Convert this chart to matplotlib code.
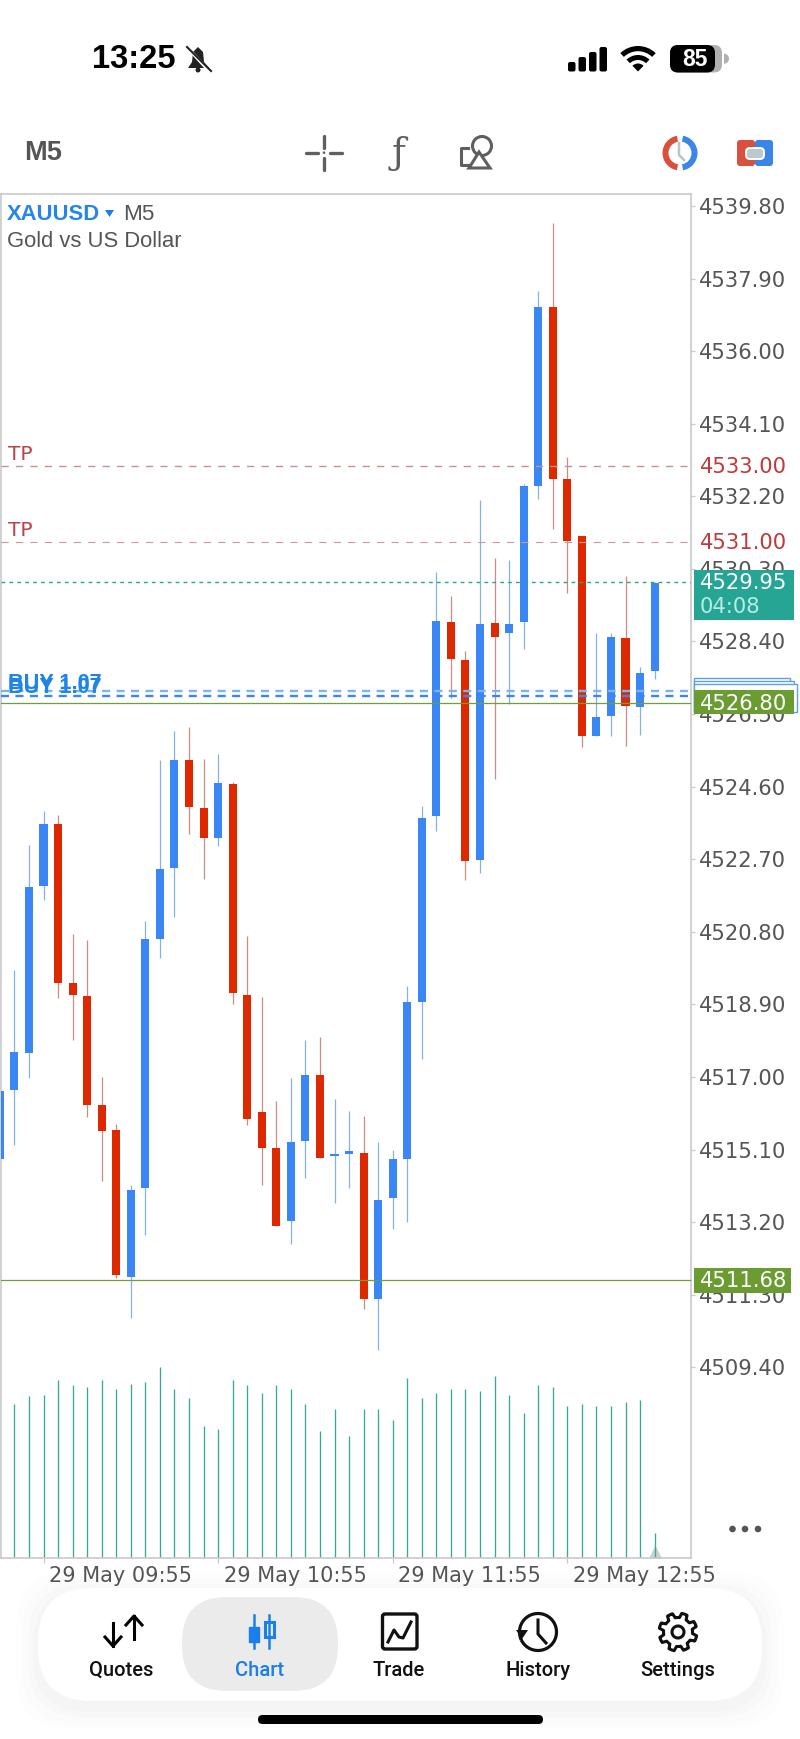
import numpy as np
import matplotlib
matplotlib.use("Agg")
import matplotlib.pyplot as plt
from matplotlib.patches import Rectangle, FancyBboxPatch, Polygon, Circle, Wedge
from matplotlib.transforms import ScaledTranslation

plt.rcParams['font.family'] = ['Liberation Sans', 'DejaVu Sans']
plt.rcParams['lines.scale_dashes'] = False

# ---------- data ----------
candle_index = list(range(-1, 45))
opens = [4514.86, 4516.66, 4517.63, 4522.00, 4523.61, 4519.47, 4519.11, 4516.27, 4515.60, 4511.77, 4514.09,
         4520.61, 4522.47, 4525.31, 4524.04, 4523.26, 4524.67, 4519.15, 4516.08, 4515.13, 4513.23, 4515.33,
         4517.05, 4514.92, 4514.98, 4515.02, 4511.20, 4513.83, 4514.84, 4518.95, 4523.83, 4528.92, 4527.91,
         4522.68, 4528.89, 4528.62, 4528.91, 4532.47, 4537.15, 4532.66, 4531.15, 4525.92, 4526.46, 4528.48,
         4526.68, 4527.64]
closes = [4516.64, 4517.66, 4521.98, 4523.61, 4519.47, 4519.14, 4516.27, 4515.59, 4511.81, 4514.05, 4520.60,
          4522.44, 4525.31, 4524.08, 4523.25, 4524.69, 4519.20, 4515.90, 4515.15, 4513.11, 4515.31, 4517.06,
          4514.87, 4514.97, 4515.02, 4511.20, 4513.79, 4514.84, 4518.95, 4523.79, 4528.93, 4527.95, 4522.65,
          4528.87, 4528.53, 4528.87, 4532.46, 4537.15, 4532.66, 4531.04, 4525.92, 4526.41, 4528.51, 4526.71,
          4527.57, 4529.94]
highs = [4516.64, 4519.80, 4523.07, 4523.96, 4523.86, 4520.73, 4520.58, 4517.01, 4515.77, 4514.16, 4521.08,
         4525.29, 4526.06, 4526.17, 4525.33, 4525.46, 4524.73, 4520.68, 4519.09, 4516.38, 4516.98, 4517.96,
         4518.04, 4516.43, 4516.11, 4515.98, 4515.31, 4515.10, 4519.39, 4524.10, 4530.23, 4529.60, 4528.14,
         4532.10, 4530.59, 4530.52, 4532.53, 4537.57, 4539.35, 4533.24, 4531.15, 4528.61, 4528.63, 4530.12,
         4527.74, 4529.95]
lows = [4514.86, 4515.22, 4516.98, 4521.63, 4519.07, 4517.98, 4515.94, 4514.28, 4511.75, 4510.68, 4512.87,
        4520.12, 4521.20, 4523.37, 4522.18, 4523.04, 4518.92, 4515.73, 4514.17, 4513.11, 4512.62, 4514.36,
        4514.87, 4513.70, 4514.09, 4510.93, 4509.85, 4513.03, 4513.21, 4517.47, 4523.43, 4526.92, 4522.15,
        4522.35, 4524.81, 4526.76, 4528.21, 4532.12, 4531.34, 4529.68, 4525.63, 4525.92, 4525.92, 4525.66,
        4525.94, 4527.41]
volumes = [154, 162, 163, 178, 173, 171, 178, 169, 174, 176, 191, 169, 160, 132, 129, 178, 173, 165, 173, 169,
           154, 127, 149, 122, 149, 149, 138, 180, 160, 165, 169, 169, 167, 182, 163, 145, 173, 171, 152, 154,
           152, 152, 156, 158, 25]
volume_index = list(range(0, 45))
price_ticks = [4539.80, 4537.90, 4536.00, 4534.10, 4532.20, 4530.30, 4528.40, 4526.50, 4524.60, 4522.70,
               4520.80, 4518.90, 4517.00, 4515.10, 4513.20, 4511.30, 4509.40]
time_ticks = [2, 14, 26, 38]
time_labels = ['29 May 09:55', '29 May 10:55', '29 May 11:55', '29 May 12:55']
tp_levels = [4533.00, 4531.00]
last_price = 4529.95
buy_levels = [4527.10, 4526.98]
green_levels = [4526.80, 4511.68]

# ---------- colours ----------
BLUE, RED = '#3a86f4', '#dd2800'
BLUE_W, RED_W = '#86b1e8', '#cc8c80'
TEAL, GREEN = '#26a595', '#6a9c32'
GREY, SPINE = '#555555', '#c9c9c9'
ACC = '#1a7fe8'
SIZE = 15.2

# ---------- layout ----------
W, H = 800, 1739
L_PX, R_PX, T_PX, B_PX = 0.8, 690.7, 194.3, 1558.0
PX_PER_UNIT = 38.2
fig = plt.figure(figsize=(W / 100, H / 100), dpi=100, facecolor='white')
rect = [L_PX / W, (H - B_PX) / H, (R_PX - L_PX) / W, (B_PX - T_PX) / H]
vol = fig.add_axes(rect, zorder=1)
ax = fig.add_axes(rect, zorder=2, facecolor='none')
step = 14.55
ax.set_xlim((L_PX - 14.4) / step, (R_PX - 14.4) / step)
ax.set_ylim(4539.8 - (B_PX - 206) / PX_PER_UNIT, 4539.8 - (T_PX - 206) / PX_PER_UNIT)

# volumes
vol.set_xlim(ax.get_xlim())
vol.set_ylim(0, B_PX - T_PX)
vol.scatter([volume_index[-1]], [0], marker=[(-1, 0), (1, 0), (0, 2)], s=353, color='#cfcfcf', linewidths=0, zorder=1)
vol.vlines(volume_index, 0, volumes, color='#3aa898', lw=0.95, zorder=2)
vol.axis('off')

# candles
up = [c >= o for o, c in zip(opens, closes)]
ax.vlines(candle_index, lows, highs, colors=[BLUE_W if u else RED_W for u in up], lw=0.9, zorder=2)
ax.bar(candle_index, [max(abs(c - o), 0.07) for o, c in zip(opens, closes)],
       bottom=[min(o, c) for o, c in zip(opens, closes)], width=0.55,
       color=[BLUE if u else RED for u in up], linewidth=0, zorder=3)

# horizontal levels
ax.axhline(tp_levels[0], color='#c99090', lw=1.0, dashes=(5.2, 5.2), zorder=4)
ax.axhline(tp_levels[1], color='#cf9898', lw=0.8, dashes=(5.2, 5.2), zorder=4)
ax.axhline(last_price, color=TEAL, lw=1.0, dashes=(2.7, 3.0), zorder=4)
ax.axhline(buy_levels[0], color='#7fb2f0', lw=1.7, dashes=(5.8, 4.6), zorder=4)
ax.axhline(buy_levels[1], color='#3a86f4', lw=1.7, dashes=(5.8, 4.6), zorder=4)
for g in green_levels:
    ax.axhline(g, color='#6f9f3c', lw=0.9, zorder=5)

# axes frame and ticks
for s in ax.spines.values():
    s.set_color(SPINE)
    s.set_linewidth(1.2)
ax.yaxis.tick_right()
ax.set_yticks(price_ticks)
ax.set_yticklabels([f'{p:.2f}' for p in price_ticks], family='DejaVu Sans', fontsize=SIZE, color=GREY)
ax.tick_params(axis='y', length=3, width=0.9, color=SPINE, pad=3.2)
ax.set_xticks(time_ticks)
ax.set_xticklabels(time_labels, family='DejaVu Sans', fontsize=15, color=GREY, ha='left')
ax.tick_params(axis='x', length=3.6, width=0.9, color=SPINE, pad=2.5)
off = ScaledTranslation(4 / 72, 0, fig.dpi_scale_trans)
for lab in ax.get_xticklabels():
    lab.set_transform(lab.get_transform() + off)

ytr = ax.get_yaxis_transform()
def ax_frac(px):
    return (px - L_PX) / (R_PX - L_PX)
def box(price_center, h_up, h_dn, x0, x1, fc, ec='none', lw=0, z=10):
    ax.add_patch(Rectangle((ax_frac(x0), price_center - h_dn / PX_PER_UNIT), ax_frac(x1) - ax_frac(x0),
                           (h_up + h_dn) / PX_PER_UNIT, transform=ytr, fc=fc, ec=ec, lw=lw,
                           clip_on=False, zorder=z))
def label(px, price, s, color, size=SIZE, z=12, **kw):
    ax.text(ax_frac(px), price - 1.2 / PX_PER_UNIT, s, transform=ytr, color=color, fontsize=size, va='center',
            ha='left', clip_on=False, zorder=z, **kw)

# red TP labels on the axis
for tp in tp_levels:
    label(699.5, tp, f'{tp:.2f}', '#c0393b', family='DejaVu Sans')
    label(7.5, tp + 12.5 / PX_PER_UNIT, 'TP', '#b8444a', size=14.5, family='DejaVu Sans')

# teal box
box(last_price, 12.5, 38.2, 694.3, 794.3, '#26a595')
label(699.5, last_price, f'{last_price:.2f}', 'white', family='DejaVu Sans')
label(699.5, last_price - 23.2 / PX_PER_UNIT, '04:08', '#b7ece3', family='DejaVu Sans')

# stacked position boxes
for dy, x1 in [(-25, 790), (-22, 794), (-19, 797)]:
    box(green_levels[0], -dy, 9, 694.3, x1, 'white', ec='#5f9fe8', lw=1.0, z=9)
box(green_levels[0], 12.5, 11.5, 694.3, 794.3, GREEN)
label(699.5, green_levels[0], f'{green_levels[0]:.2f}', 'white', family='DejaVu Sans')
box(green_levels[1], 12.5, 12.8, 694.3, 791, GREEN)
label(699.5, green_levels[1], f'{green_levels[1]:.2f}', 'white', family='DejaVu Sans')

# BUY text (overlapping labels as in the terminal)
label(7.5, buy_levels[0] + 8.5 / PX_PER_UNIT, 'BUY 1.07', '#1e84e6', size=15.6, fontweight='bold')
label(7.5, buy_levels[0] + 5 / PX_PER_UNIT, 'BUY 1.07', '#1e84e6', size=15.6, fontweight='bold')

# ---------- interface in pixel space ----------
ui = fig.add_axes([0, 0, 1, 1], zorder=5, facecolor='none')
ui.set_xlim(0, W)
ui.set_ylim(H, 0)
ui.axis('off')

def pill(x0, y0, x1, y1, r, **kw):
    p = FancyBboxPatch((x0 + r, y0 + r), x1 - x0 - 2 * r, y1 - y0 - 2 * r,
                       boxstyle=f'round,pad={r},rounding_size={r}', **kw)
    ui.add_patch(p)
    return p

# header text
ui.text(7, 214.5, 'XAUUSD', color=ACC, fontsize=15.8, fontweight='bold', va='center', alpha=0.95)
ui.add_patch(Polygon([[105, 210], [114, 210], [109.5, 217]], fc=ACC, ec='none'))
ui.text(123, 214.5, 'M5', color=GREY, fontsize=16.2, va='center')
ui.text(7, 241.5, 'Gold vs US Dollar', color=GREY, fontsize=15.8, va='center')

# status bar
ui.text(92, 60, '13:25', color='black', fontsize=23.6, fontweight='bold', va='center')
ui.add_patch(Polygon([[188, 68], [192, 62], [193, 52], [198, 47], [203, 52], [204, 62], [209, 68]], fc='#222', ec='none'))
ui.add_patch(Circle((198, 70), 2.5, fc='#222'))
ui.plot([186, 210], [46, 72], color='white', lw=2.4)
ui.plot([187, 211], [47, 71], color='#222', lw=1.5)
for xb, top in zip([568, 578.5, 589, 599.5], [62, 57, 52, 47]):
    pill(xb, top, xb + 7.5, 71.5, 2, fc='black', ec='none')
ui.add_patch(Wedge((638, 71.5), 25.5, 226, 314, width=5.2, fc='black', ec='none'))
ui.add_patch(Wedge((638, 71.5), 16.5, 226, 314, width=5, fc='black', ec='none'))
ui.add_patch(Wedge((638, 71.5), 8, 226, 314, fc='black', ec='none'))
pill(670, 45, 722, 72.5, 8, fc='#b0b0b0', ec='none')
pill(670, 45, 715, 72.5, 8, fc='black', ec='none')
ui.add_patch(Wedge((724, 58.7), 5, 270, 90, fc='#b0b0b0', ec='none'))
ui.text(695, 59.5, '85', color='white', fontsize=16.5, fontweight='bold', ha='center', va='center')

# toolbar
ui.text(24, 153, 'M5', color=GREY, fontsize=19.5, fontweight='bold', va='center')
ic = '#5f5f5f'
for xs, ys in [([306, 318], [152.7, 152.7]), ([330, 342], [152.7, 152.7]), ([324, 324], [136, 148]), ([324, 324], [158, 170])]:
    ui.plot(xs, ys, color=ic, lw=2.4, solid_capstyle='round')
ui.add_patch(Circle((324, 152.7), 1.3, fc=ic))
ui.text(399, 154, '\u0192', color=ic, fontsize=27, family='DejaVu Serif', ha='center', va='center')
ui.plot([468, 461, 461, 470], [148, 148, 165, 165], color=ic, lw=2.2)
ui.add_patch(Circle((482, 146), 9.5, fc='none', ec=ic, lw=2.2))
ui.add_patch(Polygon([[479, 152], [469, 168], [490, 168]], fc='white', ec=ic, lw=2.2))
ui.add_patch(Wedge((680, 153), 17.5, 100, 260, width=6, fc='#d9503f', ec='none'))
ui.add_patch(Wedge((680, 153), 17.5, 280, 80, width=6, fc='#3a86e8', ec='none'))
ui.plot([679, 679, 684], [143, 155, 160], color='#b8c4c8', lw=1.8)
pill(737, 140, 755, 166, 3, fc='#d9503f', ec='none')
pill(755, 140, 773, 166, 3, fc='#3a86e8', ec='none')
pill(746, 148, 764, 159, 4, fc='#bcc9cc', ec='white', lw=1.4)

# three dots
for xd in (732.5, 745, 758):
    ui.add_patch(Circle((xd, 1529), 3.3, fc=GREY))

# bottom navigation
for grow, alpha in [(22, 0.006), (16, 0.008), (10, 0.01), (5, 0.012)]:
    pill(38 - grow, 1588 - grow + 6, 762 + grow, 1701 + grow + 6, 56, fc='black', ec='none', alpha=alpha)
pill(38, 1588, 762, 1701, 54, fc='white', ec='none')
pill(182, 1597, 338, 1691, 45, fc='#ebebeb', ec='none')
for cx, name, col in [(121, 'Quotes', '#111111'), (260, 'Chart', ACC), (399, 'Trade', '#111111'),
                      (538, 'History', '#111111'), (678, 'Settings', '#111111')]:
    ui.text(cx, 1670, name, color=col, fontsize=14.5, family='Roboto', fontweight='medium', ha='center', va='center')

# quotes icon
ui.plot([113, 113], [1623, 1646], color='black', lw=2.2)
ui.plot([105, 113, 121], [1637, 1646, 1637], color='black', lw=2.2)
ui.plot([134, 134], [1616, 1639], color='black', lw=2.2)
ui.plot([126, 134, 142], [1625, 1616, 1625], color='black', lw=2.2)
# chart icon
ui.plot([254, 254], [1615, 1648], color=ACC, lw=1.8)
ui.add_patch(Rectangle((249, 1627), 10, 15, fc=ACC, ec=ACC))
ui.plot([269, 269], [1615, 1648], color=ACC, lw=1.8)
ui.add_patch(Rectangle((264.5, 1622), 9, 15, fc='#ebebeb', ec=ACC, lw=2.2))
# trade icon
pill(382.5, 1614, 417, 1649, 2.5, fc='white', ec='#111111', lw=2.4)
ui.plot([388, 394, 399, 403, 411], [1642, 1630, 1637, 1638, 1622], color='#111111', lw=2.2)
# history icon
t = np.linspace(np.radians(-200), np.radians(150), 80)
ui.plot(538 + 18.5 * np.cos(t), 1632 + 18.5 * np.sin(t), color='#111111', lw=2.3)
ui.add_patch(Polygon([[516, 1630], [528, 1630], [522, 1639]], fc='#111111', ec='none'))
ui.plot([538, 538, 546], [1620, 1634, 1643], color='#111111', lw=2.2)
# settings icon
ang = np.linspace(0, 2 * np.pi, 8 * 8 + 1)
rad = np.where((np.arange(ang.size) % 8) < 4, 19, 14.5)
ui.add_patch(Polygon(np.c_[678 + rad * np.cos(ang + 0.2), 1632 + rad * np.sin(ang + 0.2)], fc='white', ec='#111111', lw=2.2, joinstyle='round'))
ui.add_patch(Circle((678, 1632), 6, fc='white', ec='#111111', lw=2.2))
# home indicator
pill(258, 1715, 543, 1724, 4.5, fc='black', ec='none')

fig.savefig('out.png', dpi=100, facecolor='white')
